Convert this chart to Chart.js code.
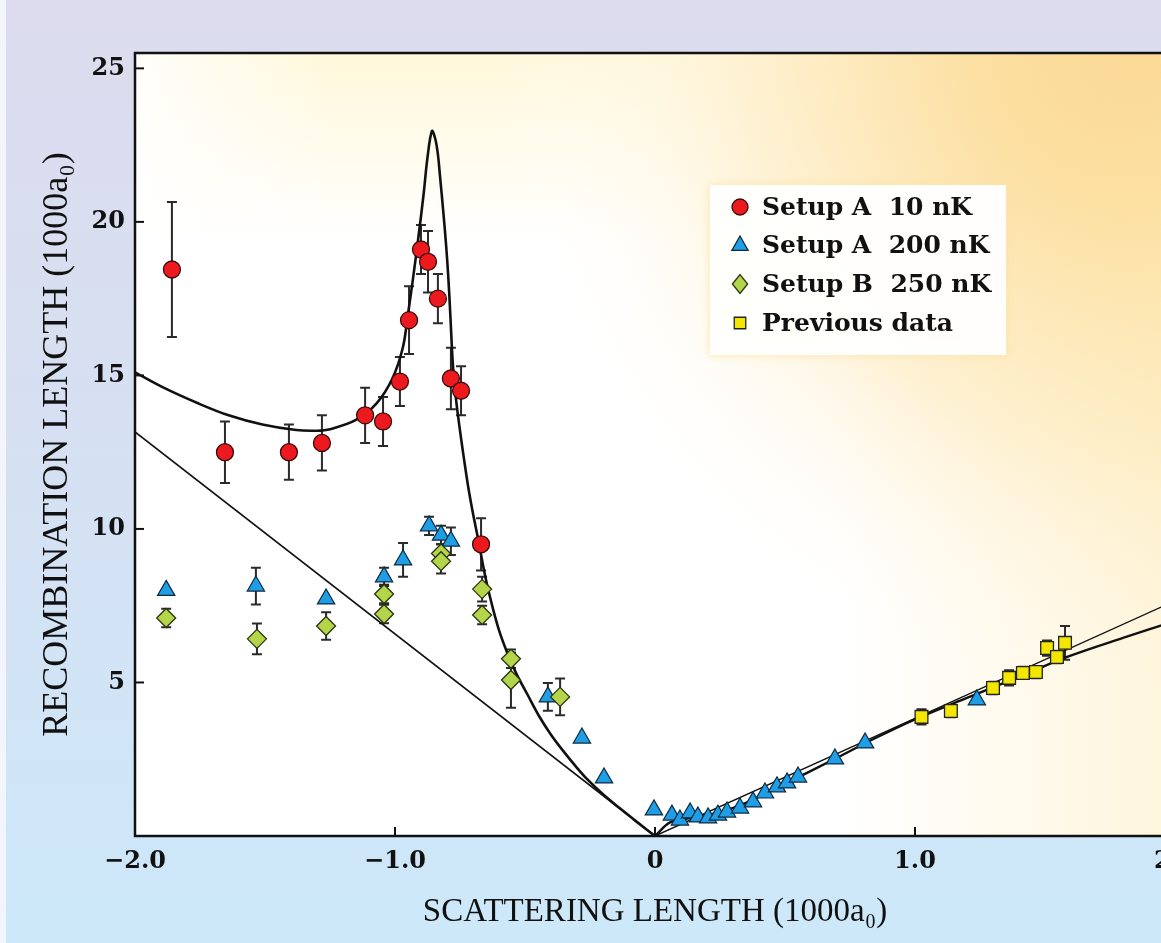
<!DOCTYPE html>
<html><head><meta charset="utf-8">
<script src="https://cdn.jsdelivr.net/npm/chart.js@4.4.1/dist/chart.umd.min.js"></script>
<style>
html,body{margin:0;padding:0;overflow:hidden;width:1161px;height:943px;}
body{background:linear-gradient(to bottom,#dcdcee 0%,#d6e0f2 45%,#cce8f9 100%);position:relative;}
#edge{position:absolute;left:0;top:0;width:6px;height:943px;background:#f2f5fb;}
#wrap{position:absolute;left:0;top:0;width:1190px;height:943px;}
</style></head><body>
<div id="edge"></div>
<div id="wrap"><canvas id="c"></canvas></div>
<script>
// ---------- data ----------
const xTicks = [-2, -1, 0, 1, 2];
const xTickLabels = ['\u22122.0', '\u22121.0', '0', '1.0', '2.0'];
const yTicks = [5, 10, 15, 20, 25];
const yTickLabels = ['5', '10', '15', '20', '25'];

const seriesNames = ['Setup A  10 nK', 'Setup A  200 nK', 'Setup B  250 nK', 'Previous data'];

const redX = [-1.858, -1.654, -1.408, -1.281, -1.115, -1.046, -0.981, -0.946, -0.900, -0.873, -0.835, -0.785, -0.746, -0.669];
const redY = [18.45, 12.5, 12.5, 12.8, 13.7, 13.5, 14.8, 16.8, 19.1, 18.7, 17.5, 14.9, 14.5, 9.5];
const redErr = [2.2, 1.0, 0.9, 0.9, 0.9, 0.8, 0.8, 1.1, 0.8, 1.0, 0.8, 1.0, 0.8, 0.85];

const blueX = [-1.88, -1.535, -1.265, -1.042, -0.969, -0.869, -0.823, -0.785, -0.412, -0.281, -0.196, -0.004,
  0.065, 0.096, 0.135, 0.165, 0.204, 0.242, 0.277, 0.327, 0.377, 0.423, 0.469, 0.508, 0.55, 0.692, 0.808, 1.238];
const blueY = [8.0, 8.14, 7.72, 8.44, 8.99, 10.1, 9.8, 9.6, 4.53, 3.19, 1.89, 0.85,
  0.68, 0.52, 0.75, 0.62, 0.59, 0.68, 0.78, 0.91, 1.11, 1.40, 1.60, 1.73, 1.92, 2.51, 3.03, 4.43];
const blueErr = [0, 0.6, 0, 0.3, 0.55, 0.3, 0.3, 0.45, 0.45, 0, 0, 0,
  0, 0, 0, 0, 0, 0, 0, 0, 0, 0, 0, 0, 0, 0, 0, 0];

const greenX = [-1.88, -1.531, -1.265, -1.042, -1.042, -0.823, -0.823, -0.665, -0.665, -0.554, -0.554, -0.365];
const greenY = [7.1, 6.42, 6.84, 7.88, 7.23, 9.2, 8.95, 8.04, 7.2, 5.77, 5.08, 4.53];
const greenErr = [0.3, 0.5, 0.45, 0.3, 0.3, 0.3, 0.4, 0.4, 0.3, 0.3, 0.9, 0.6];

const yellowX = [1.025, 1.138, 1.30, 1.362, 1.415, 1.465, 1.508, 1.546, 1.577];
const yellowY = [3.88, 4.07, 4.82, 5.15, 5.31, 5.34, 6.12, 5.83, 6.29];
const yellowErr = [0.25, 0.2, 0.2, 0.25, 0.2, 0.2, 0.25, 0.2, 0.55];

// theory curve, negative side
const curveNegX = [-2.0, -1.89, -1.76, -1.64, -1.51, -1.38, -1.30, -1.25, -1.15, -1.07, -1.01, -0.97, -0.95, -0.93, -0.91, -0.89, -0.875, -0.858,
  -0.845, -0.835, -0.827, -0.815, -0.804, -0.795, -0.788, -0.777, -0.765, -0.75, -0.735, -0.719, -0.70, -0.681, -0.66, -0.645, -0.62, -0.596,
  -0.558, -0.531, -0.49, -0.442, -0.40, -0.354, -0.30, -0.262, -0.20, -0.135, -0.07, 0.0];
const curveNegY = [15.1, 14.6, 14.1, 13.7, 13.4, 13.22, 13.2, 13.25, 13.55, 14.1, 14.9, 15.9, 17.0, 18.2, 19.5, 20.9, 22.1, 22.96,
  22.7, 22.2, 21.5, 20.4, 19.3, 18.2, 17.1, 15.3, 14.2, 13.2, 12.3, 11.4, 10.5, 9.7, 8.75, 8.15, 7.3, 6.6,
  5.75, 5.25, 4.6, 3.85, 3.3, 2.78, 2.22, 1.86, 1.36, 0.9, 0.46, 0.0];
// theory curve, positive side
const curvePosX = [0.0, 0.06, 0.15, 0.25, 0.35, 0.5, 0.7, 0.85, 1.0, 1.2, 1.4, 1.585, 1.8, 2.0];
const curvePosY = [0.0, 0.45, 0.6, 0.78, 1.08, 1.7, 2.55, 3.2, 3.8, 4.5, 5.18, 5.83, 6.45, 7.0];
// straight asymptotes
const lineNegX = [-2.0, 0.0];
const lineNegY = [13.16, 0.0];
const linePosX = [0.0, 2.0];
const linePosY = [0.0, 7.66];

// ---------- helpers ----------
const pts = (xs, ys) => xs.map((x, i) => ({x, y: ys[i]}));
const SERIF = '"DejaVu Serif", "Liberation Serif", serif';
const TITLE_SERIF = '"Liberation Serif", "DejaVu Serif", serif';

function drawMarker(ctx, style, x, y, r, fill, stroke) {
  ctx.save();
  ctx.beginPath();
  if (style === 'circle') {
    ctx.arc(x, y, r, 0, Math.PI * 2);
  } else if (style === 'triangle') {
    const w = r * 0.9;
    ctx.moveTo(x, y - r);
    ctx.lineTo(x + w, y + r * 0.6);
    ctx.lineTo(x - w, y + r * 0.6);
    ctx.closePath();
  } else if (style === 'rectRot') {
    ctx.moveTo(x, y - r * 1.05);
    ctx.lineTo(x + r * 0.85, y);
    ctx.lineTo(x, y + r * 1.05);
    ctx.lineTo(x - r * 0.85, y);
    ctx.closePath();
  } else {
    ctx.rect(x - r * 0.72, y - r * 0.72, r * 1.44, r * 1.44);
  }
  ctx.fillStyle = fill; ctx.fill();
  ctx.lineWidth = 1.3; ctx.strokeStyle = stroke; ctx.stroke();
  ctx.restore();
}

// ---------- plugins ----------
const plotBg = {
  id: 'plotBg',
  beforeDraw(chart) {
    const {ctx, chartArea: a} = chart;
    const w = a.right - a.left, h = a.bottom - a.top;
    ctx.save();
    ctx.beginPath(); ctx.rect(a.left, a.top, w, h); ctx.clip();
    ctx.fillStyle = '#ffffff';
    ctx.fillRect(a.left, a.top, w, h);
    // pale cream band along the top
    const tg = ctx.createLinearGradient(0, a.top, 0, a.top + 190);
    tg.addColorStop(0, 'rgba(255,246,208,0.8)');
    tg.addColorStop(1, 'rgba(255,246,208,0)');
    ctx.fillStyle = tg;
    ctx.fillRect(a.left, a.top, w, 190);
    const lt = ctx.createLinearGradient(a.left, 0, a.left + 200, 0);
    lt.addColorStop(0, 'rgba(255,255,255,0.85)');
    lt.addColorStop(1, 'rgba(255,255,255,0)');
    ctx.fillStyle = lt;
    ctx.fillRect(a.left, a.top, 200, h);
    // warm glow from the top-right corner
    const rg = ctx.createRadialGradient(a.right - 20, a.top, 0, a.right - 20, a.top, 1000);
    rg.addColorStop(0, 'rgba(249,206,132,1)');
    rg.addColorStop(0.16, 'rgba(252,220,155,1)');
    rg.addColorStop(0.4, 'rgba(254,239,204,0.8)');
    rg.addColorStop(0.66, 'rgba(255,255,255,0)');
    ctx.fillStyle = rg;
    ctx.fillRect(a.left, a.top, w, h);
    const lg = ctx.createLinearGradient(840, 0, a.right, 0);
    lg.addColorStop(0, 'rgba(253,236,185,0)');
    lg.addColorStop(1, 'rgba(253,232,175,0.45)');
    ctx.fillStyle = lg;
    ctx.fillRect(a.left, a.top, w, h);
    ctx.restore();
  }
};

const errorBars = {
  id: 'errorBars',
  beforeDatasetsDraw(chart) {
    const {ctx} = chart;
    const xs = chart.scales.x, ys = chart.scales.y;
    ctx.save();
    ctx.strokeStyle = '#2a2a2a';
    ctx.lineWidth = 2;
    chart.data.datasets.forEach(ds => {
      if (!ds.errors) return;
      ds.data.forEach((p, i) => {
        const e = ds.errors[i];
        if (!e) return;
        const px = xs.getPixelForValue(p.x);
        const y1 = ys.getPixelForValue(p.y + e), y2 = ys.getPixelForValue(p.y - e);
        ctx.beginPath();
        ctx.moveTo(px, y1); ctx.lineTo(px, y2);
        ctx.moveTo(px - 5, y1); ctx.lineTo(px + 5, y1);
        ctx.moveTo(px - 5, y2); ctx.lineTo(px + 5, y2);
        ctx.stroke();
      });
    });
    ctx.restore();
  }
};

const frame = {
  id: 'frame',
  afterDatasetsDraw(chart) {
    const {ctx, chartArea: a} = chart;
    const xs = chart.scales.x, ys = chart.scales.y;
    ctx.save();
    ctx.strokeStyle = '#111';
    ctx.lineWidth = 2.5;
    ctx.strokeRect(a.left, a.top, a.right - a.left, a.bottom - a.top);
    ctx.lineWidth = 2;
    xs.ticks.forEach(t => {
      const px = xs.getPixelForValue(t.value);
      ctx.beginPath(); ctx.moveTo(px, a.bottom); ctx.lineTo(px, a.bottom - 9); ctx.stroke();
    });
    ys.ticks.forEach(t => {
      const py = ys.getPixelForValue(t.value);
      ctx.beginPath(); ctx.moveTo(a.left, py); ctx.lineTo(a.left + 9, py); ctx.stroke();
    });
    ctx.restore();
  }
};

const boxLegend = {
  id: 'boxLegend',
  afterDraw(chart) {
    const {ctx} = chart;
    const L = 710, T = 185, W = 296, H = 170;
    ctx.save();
    ctx.shadowColor = 'rgba(250,225,160,0.9)';
    ctx.shadowBlur = 8;
    ctx.fillStyle = 'rgba(255,255,255,0.97)';
    ctx.fillRect(L, T, W, H);
    ctx.shadowBlur = 0;
    const rows = [207, 245, 284, 323];
    let k = 0;
    chart.data.datasets.forEach(ds => {
      if (!ds.inLegend) return;
      const y = rows[k++];
      drawMarker(ctx, ds.pointStyle, 740, y, ds.legendR, ds.backgroundColor, ds.borderColor);
      ctx.fillStyle = '#111';
      ctx.font = 'bold 25px ' + SERIF;
      ctx.textBaseline = 'middle';
      ctx.textAlign = 'left';
      ctx.fillText(ds.label, 762, y + 1);
    });
    ctx.restore();
  }
};

// ---------- chart ----------
const datasets = [
  {label: 'theory', data: pts(curveNegX, curveNegY), showLine: true, pointRadius: 0, borderColor: '#111', borderWidth: 2.6, tension: 0.35, order: 10},
  {label: 'theory+', data: pts(curvePosX, curvePosY), showLine: true, pointRadius: 0, borderColor: '#111', borderWidth: 2.4, tension: 0.35, order: 10},
  {label: 'asym-', data: pts(lineNegX, lineNegY), showLine: true, pointRadius: 0, borderColor: '#111', borderWidth: 1.6, order: 10},
  {label: 'asym+', data: pts(linePosX, linePosY), showLine: true, pointRadius: 0, borderColor: '#111', borderWidth: 1.4, order: 10},
  {label: seriesNames[0], inLegend: true, legendR: 8, data: pts(redX, redY), errors: redErr, pointStyle: 'circle', pointRadius: 8.5, backgroundColor: '#ec1a1f', borderColor: '#3a0a0a', borderWidth: 1.3, order: 1},
  {label: seriesNames[1], inLegend: true, legendR: 9, data: pts(blueX, blueY), errors: blueErr, pointStyle: 'triangle', pointRadius: 10, backgroundColor: '#1f9ee6', borderColor: '#0c2a40', borderWidth: 1.2, order: 3},
  {label: seriesNames[2], inLegend: true, legendR: 9, data: pts(greenX, greenY), errors: greenErr, pointStyle: 'rectRot', pointRadius: 9.5, backgroundColor: '#b4d44a', borderColor: '#2a3410', borderWidth: 1.3, order: 2},
  {label: seriesNames[3], inLegend: true, legendR: 8, data: pts(yellowX, yellowY), errors: yellowErr, pointStyle: 'rect', pointRadius: 9, backgroundColor: '#f3e600', borderColor: '#222', borderWidth: 1.3, order: 2}
];

new Chart(document.getElementById('c'), {
  type: 'scatter',
  data: {datasets},
  plugins: [plotBg, errorBars, frame, boxLegend],
  options: {
    responsive: true,
    maintainAspectRatio: false,
    animation: false,
    events: [],
    layout: {padding: {top: 53, right: 15, left: 0, bottom: 0}},
    plugins: {legend: {display: false}, tooltip: {enabled: false}},
    scales: {
      x: {
        type: 'linear', min: -2, max: 2,
        afterBuildTicks: s => { s.ticks = xTicks.map(v => ({value: v})); },
        afterFit: s => { s.height = 107; s.paddingLeft = 0; s.paddingRight = 0; },
        grid: {display: false, drawTicks: false},
        border: {display: false},
        ticks: {padding: 11, color: '#111', font: {family: SERIF, size: 24, weight: 'bold'},
          callback: (v) => xTickLabels[xTicks.indexOf(v)]},
        title: {display: true, text: 'SCATTERING LENGTH (1000a\u2080)', color: '#111',
          font: {family: TITLE_SERIF, size: 33}, padding: {top: 0, bottom: 11}}
      },
      y: {
        type: 'linear', min: 0, max: 25.5,
        afterBuildTicks: s => { s.ticks = yTicks.map(v => ({value: v})); },
        afterFit: s => { s.width = 135; s.paddingTop = 0; s.paddingBottom = 0; },
        grid: {display: false, drawTicks: false},
        border: {display: false},
        ticks: {padding: 10, color: '#111', font: {family: SERIF, size: 24, weight: 'bold'},
          callback: (v) => yTickLabels[yTicks.indexOf(v)]},
        title: {display: true, text: 'RECOMBINATION LENGTH (1000a\u2080)', color: '#111',
          font: {family: TITLE_SERIF, size: 36}, padding: {top: 36, bottom: 0}}
      }
    }
  }
});
</script>
</body></html>
